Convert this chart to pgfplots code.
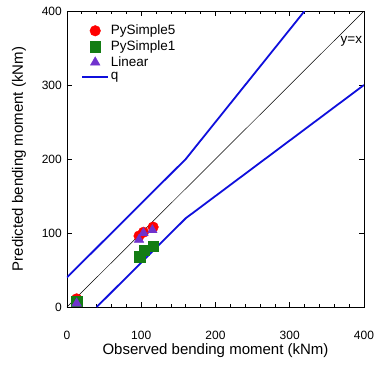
\documentclass[border=0pt]{standalone}
\usepackage{pgfplots}
\pgfplotsset{compat=1.18}
\usepackage{fontspec}
\setmainfont{Liberation Sans}
\definecolor{qblue}{RGB}{15,15,220}
\definecolor{pred}{RGB}{255,0,0}
\definecolor{pgreen}{RGB}{20,125,20}
\definecolor{ppurple}{RGB}{112,50,205}
\begin{document}
\begin{tikzpicture}
\begin{axis}[
  scale only axis,
  width=297bp, height=296bp,
  xmin=0, xmax=400, ymin=0, ymax=400,
  xtick={0,100,200,300,400},
  ytick={0,100,200,300,400},
  minor x tick num=4,
  tick align=inside,
  major tick length=5bp,
  minor tick length=3bp,
  axis line style={line width=0.8bp},
  every tick/.style={black, line width=0.7bp},
  /pgf/number format/assume math mode=true,
  tick label style={font=\fontsize{12bp}{14bp}\selectfont, inner xsep=0pt},
  xticklabel style={yshift=-21bp},
  yticklabel style={xshift=-5bp},
  label style={font=\fontsize{15bp}{18bp}\selectfont},
  xlabel={Observed bending moment (kNm)},
  ylabel={Predicted bending moment (kNm)},
  xlabel style={at={(axis description cs:0.5,-0.146)}, anchor=center},
  ylabel style={at={(axis description cs:-0.162,0.5)}, anchor=center},
  legend style={draw=none, fill=none, at={(0.045,0.963)}, anchor=north west,
    font=\fontsize{13.5bp}{15bp}\selectfont, row sep=0.5bp, inner sep=1bp},
  legend cell align=left,
  legend image code/.code={
    \draw[mark repeat=2,mark phase=2] plot coordinates {(0cm,0cm) (0.45cm,0cm) (0.9cm,0cm)};
  },
]
\addplot[black, line width=0.5bp, forget plot] coordinates {(0,0) (400,400)};
\addplot[qblue, line width=1.8bp, forget plot] coordinates {(0,40) (160,200) (320,400)};
\addplot[qblue, line width=1.8bp, forget plot] coordinates {(40,0) (160,120) (400,300)};
\addplot[only marks, mark=*, mark size=5.3bp, color=pred, mark options={fill=pred, draw=pred}]
  coordinates {(13,11) (97,96) (103,101) (116,108)};
\addlegendentry{PySimple5}
\addplot[only marks, mark=square*, mark size=5.3bp, color=pgreen, mark options={fill=pgreen, draw=pgreen}]
  coordinates {(13,8) (98,68) (104,77) (116,82)};
\addlegendentry{PySimple1}
\addplot[only marks, mark=triangle*, mark size=5.5bp, color=ppurple, mark options={fill=ppurple, draw=ppurple}]
  coordinates {(13,5) (97,91) (103,100) (115,104)};
\addlegendentry{Linear}
\addlegendimage{qblue, line width=1.8bp}
\addlegendentry{q}
\node[font=\fontsize{13.5bp}{15bp}\selectfont] at (axis cs:383,359) {y=x};
\end{axis}
\path ([shift={(-67bp,-62bp)}]current axis.south west) rectangle ([shift={(10bp,11bp)}]current axis.north east);
\end{tikzpicture}
\end{document}
